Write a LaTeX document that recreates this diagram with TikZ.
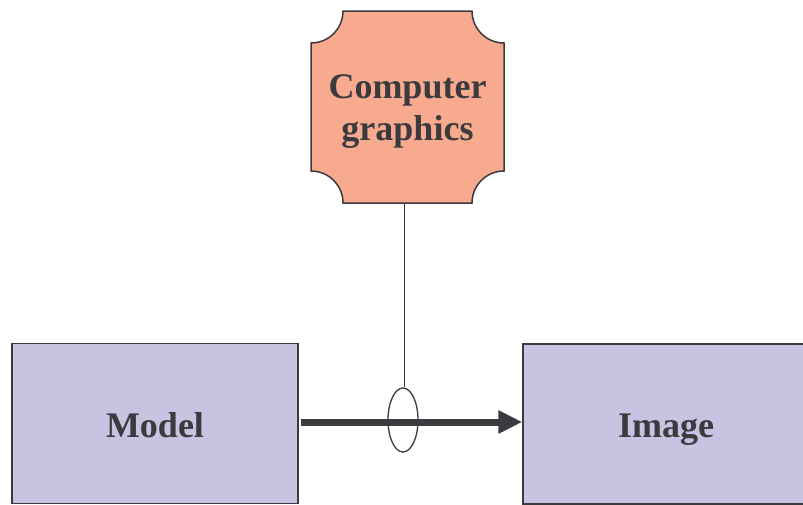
\documentclass[tikz,border=0pt]{standalone}
\usepackage{fontspec}
\setmainfont{Liberation Serif}
\usetikzlibrary{arrows.meta,shapes.geometric}
\definecolor{cgfill}{HTML}{F8AA8F}
\definecolor{boxfill}{HTML}{C7C3E1}
\definecolor{ink}{HTML}{3A3A3F}
\tikzset{
  lbl/.style={text=ink, font=\fontsize{36}{42}\selectfont\bfseries, align=center},
  bigbox/.style={draw=ink, line width=1.5pt, fill=boxfill, minimum width=286pt, minimum height=160pt, inner sep=0pt, lbl, text height=27pt, text depth=0pt},
}
\begin{document}
\begin{tikzpicture}[x=1pt,y=-1pt]
\useasboundingbox (0,0) rectangle (803,504);
% computer graphics plaque
\draw[draw=ink, line width=1.5pt, fill=cgfill]
  (343,11) -- (472,11) arc[start angle=180,end angle=270,radius=32pt]
  -- (504,171) arc[start angle=90,end angle=180,radius=32pt]
  -- (343,203) arc[start angle=0,end angle=90,radius=32pt]
  -- (311,43) arc[start angle=270,end angle=360,radius=32pt] -- cycle;
\node[lbl, inner sep=0pt] (cg) at (407.5,112) {Computer\\graphics};
\coordinate (cgb) at (404.5,203);
\node[bigbox] (model) at (155,423.5) {Model};
\node[bigbox] (image) at (666,424) {Image};
\node[draw=ink, line width=1.3pt, ellipse, minimum width=30pt, minimum height=64pt, inner sep=0pt] (el) at (403,420) {};
\draw[ink, line width=7pt, -{Triangle[length=24pt,width=22pt]}, shorten <=2pt] (model.east |- 0,422) coordinate (a) -- (image.west |- 0,422) coordinate (b);
\draw[ink, line width=1.2pt] (cgb) -- (cgb |- el.north);
\end{tikzpicture}
\end{document}
